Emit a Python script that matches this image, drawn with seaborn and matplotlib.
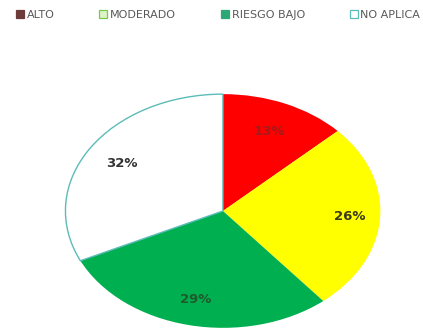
import matplotlib
matplotlib.use("Agg")
import matplotlib.pyplot as plt
from matplotlib.lines import Line2D
import numpy as np
import seaborn as sns

sns.set_theme(style="white")
plt.rcParams["font.family"] = ["DejaVu Sans"]

# Risk categories and their shares (%)
categories = ["ALTO", "MODERADO", "RIESGO BAJO", "NO APLICA"]
shares = [13, 26, 29, 32]
labels = ["13%", "26%", "29%", "32%"]

wedge_colors = ["#ff0000", "#ffff00", "#00b050", "#ffffff"]
label_colors = ["#a51a1a", "#3a3a1a", "#1f5a2a", "#333333"]
label_radius = [0.74, 0.81, 0.78, 0.76]
legend_face = ["#6e3b3b", "#dff3c8", "#2aa876", "#ffffff"]
legend_edge = ["#6e3b3b", "#7cc84a", "#2aa876", "#5bbcb8"]

fig = plt.figure(figsize=(4.23, 3.32), dpi=100)
ax = fig.add_axes([0.151, 0.009, 0.752, 0.711])

wedges, _ = ax.pie(
    shares,
    colors=wedge_colors,
    startangle=90,
    counterclock=False,
    radius=1.0,
    wedgeprops=dict(linewidth=0),
)
wedges[3].set_edgecolor("#5bbcb8")
wedges[3].set_linewidth(1.0)

# Percentage labels placed along each wedge's bisector
cum = np.cumsum([0] + shares[:-1])
for i, (s, c0) in enumerate(zip(shares, cum)):
    ang = np.deg2rad(90 - (c0 + s / 2) * 3.6)
    r = label_radius[i]
    ax.text(r * np.cos(ang), r * np.sin(ang), labels[i], ha="center", va="center",
            fontsize=9.5, fontweight="bold", color=label_colors[i])

ax.set_aspect("auto")
ax.set_xlim(-1.01, 1.01)
ax.set_ylim(-1.01, 1.01)
ax.axis("off")

handles = [
    Line2D([0], [0], marker="s", linestyle="none", markersize=6,
           markerfacecolor=f, markeredgecolor=e, markeredgewidth=0.9)
    for f, e in zip(legend_face, legend_edge)
]
fig.legend(handles, categories, loc="upper center", bbox_to_anchor=(0.515, 0.99),
           ncol=4, frameon=False, fontsize=8, labelcolor="#595959",
           handlelength=0.8, handletextpad=0.2, columnspacing=4.0,
           borderaxespad=0.2)

fig.savefig("out.png", dpi=100, facecolor="white")
